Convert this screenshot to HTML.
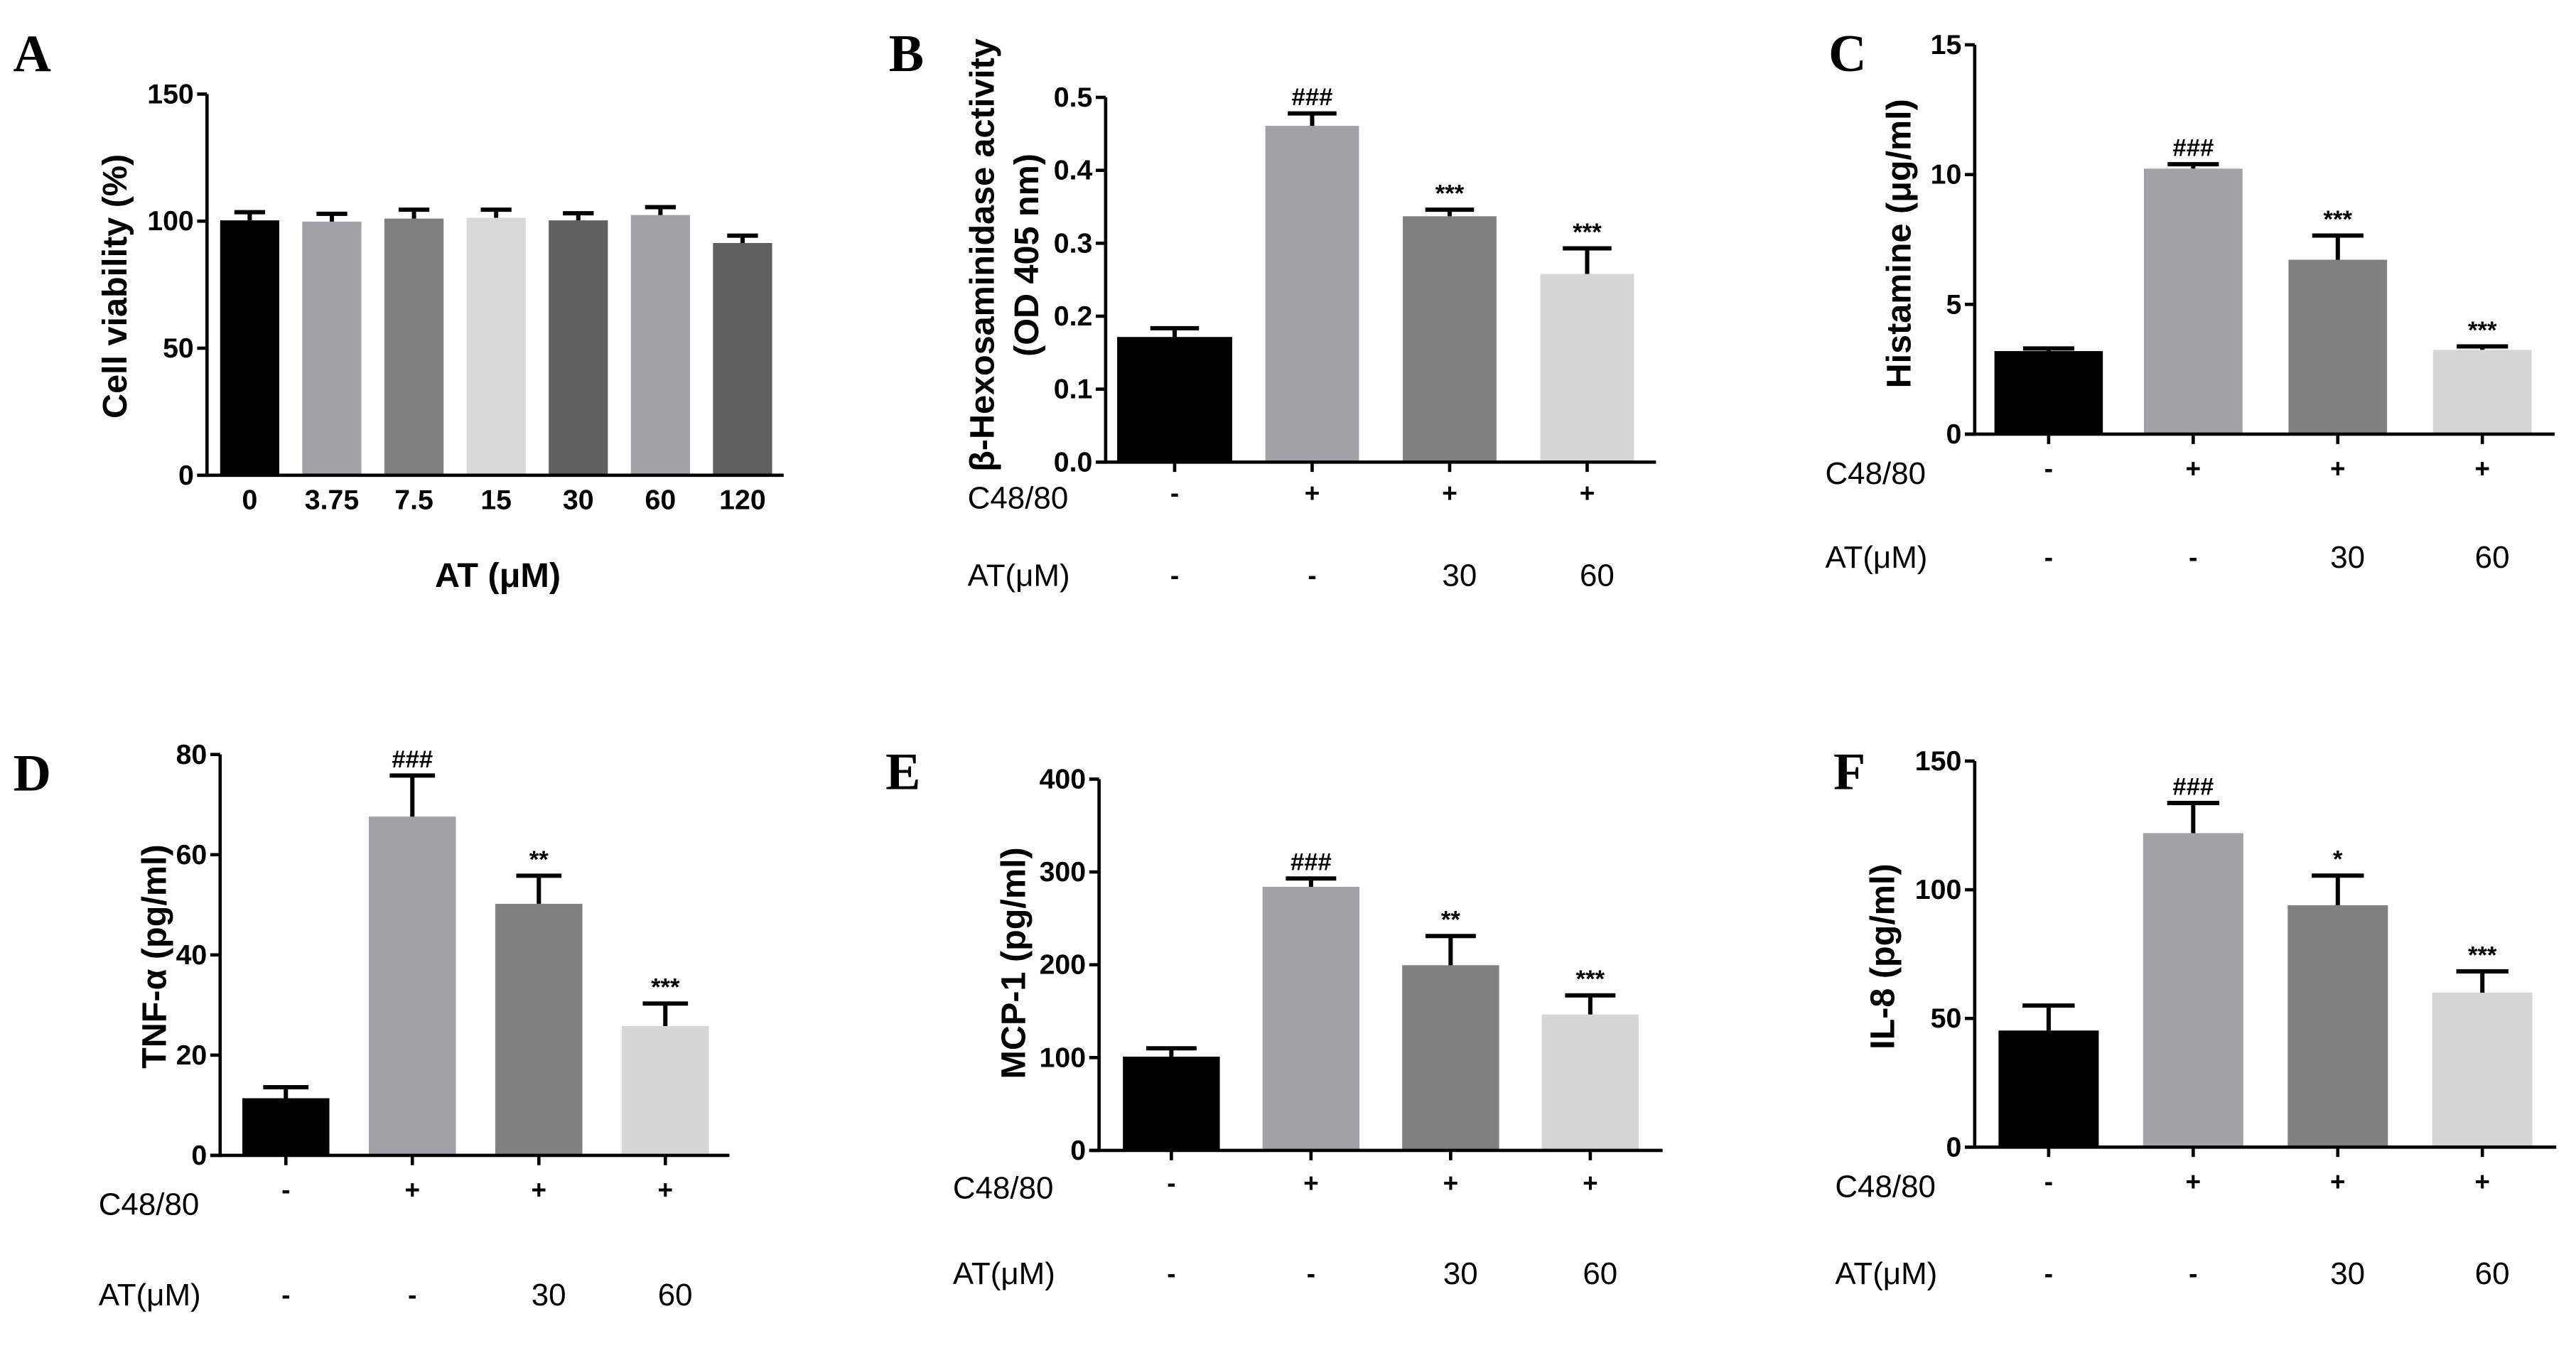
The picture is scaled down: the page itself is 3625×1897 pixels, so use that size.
<!DOCTYPE html>
<html><head><meta charset="utf-8"><style>
html,body{margin:0;padding:0;background:#fff;}
svg{display:block;}
text{font-family:"Liberation Sans",Arial,sans-serif;}
.lbl{font-family:"Liberation Serif","Times New Roman",serif;font-weight:bold;font-size:32px;}
.tick{font-weight:bold;font-size:17px;}
.ttl{font-weight:bold;font-size:21px;}
.row{font-size:19px;}
.sign{font-weight:bold;font-size:16px;}
.ann{font-weight:bold;font-size:15px;}
</style></head><body>
<svg id="fig" width="3625" height="1897" viewBox="0 0 1568 820" xmlns="http://www.w3.org/2000/svg">
<rect x="0" y="0" width="1568" height="820" fill="#fff"/>
</svg>
<script>
// ---- Panel A data ----
const aCategories = ["0","3.75","7.5","15","30","60","120"];
const aValues = [100.3, 99.8, 101, 101.3, 100.3, 102.4, 91.4];
const aErrors = [3.2, 3.1, 3.5, 3.2, 2.8, 3.1, 2.9];
const aTicks = [0, 50, 100, 150];
const aTickLabels = ["0","50","100","150"];
// ---- Panel B data ----
const bValues = [0.1715, 0.461, 0.337, 0.258];
const bErrors = [0.012, 0.017, 0.009, 0.035];
const bAnnot = ["", "###", "***", "***"];
const bTicks = [0, 0.1, 0.2, 0.3, 0.4, 0.5];
const bTickLabels = ["0.0","0.1","0.2","0.3","0.4","0.5"];
// ---- Panel C data ----
const cValues = [3.2, 10.23, 6.72, 3.25];
const cErrors = [0.1, 0.17, 0.93, 0.13];
const cAnnot = ["", "###", "***", "***"];
const cTicks = [0, 5, 10, 15];
const cTickLabels = ["0","5","10","15"];
// ---- Panel D data ----
const dValues = [11.4, 67.6, 50.2, 25.8];
const dErrors = [2.2, 8.2, 5.6, 4.5];
const dAnnot = ["", "###", "**", "***"];
const dTicks = [0, 20, 40, 60, 80];
const dTickLabels = ["0","20","40","60","80"];
// ---- Panel E data ----
const eValues = [101, 284, 199.5, 146.5];
const eErrors = [9, 9, 31.5, 20.5];
const eAnnot = ["", "###", "**", "***"];
const eTicks = [0, 100, 200, 300, 400];
const eTickLabels = ["0","100","200","300","400"];
// ---- Panel F data ----
const fValues = [45.3, 122, 94, 60];
const fErrors = [9.7, 11.7, 11.5, 8.3];
const fAnnot = ["", "###", "*", "***"];
const fTicks = [0, 50, 100, 150];
const fTickLabels = ["0","50","100","150"];
// shared treatment rows
const c4880Row = ["-", "+", "+", "+"];
const atRow = ["-", "-", "30", "60"];

const NS = "http://www.w3.org/2000/svg";
const svg = document.getElementById("fig");
function mk(tag, attrs, parent) {
  const e = document.createElementNS(NS, tag);
  for (const k in attrs) e.setAttribute(k, attrs[k]);
  (parent || svg).appendChild(e);
  return e;
}
function txt(s, attrs, parent) { const t = mk("text", attrs, parent); t.textContent = s; return t; }

function panel(L, values, errors, ticks, tickLabels, annot, colors, cats) {
  const g = mk("g", {});
  
  
  const y = v => L.y0 - (v - ticks[0]) / (ticks[ticks.length - 1] - ticks[0]) * (L.y0 - L.yTop);
  const xc = i => L.x0c + i * L.step;
  const pl = txt(L.id.toUpperCase(), {x: L.lx, y: L.ly, class: "lbl"}, g);
  
  
  values.forEach((v, i) => {
    const w = (i === 0 && L.w0) ? L.w0 : L.w;
    const r = mk("rect", {x: xc(i) - w / 2, y: y(v), width: w, height: L.y0 - y(v), fill: colors[i]}, g);
    
    
    const top = y(v + errors[i]);
    const cw = L.w * 0.26;
    const eb = mk("path", {d: `M${xc(i)},${y(v)} V${top} M${xc(i) - cw},${top} H${xc(i) + cw}`, stroke: "#000", "stroke-width": 2.6, fill: "none"}, g);
    
    
    if (annot && annot[i]) {
      const a = txt(annot[i], {x: xc(i), y: top - 5, "text-anchor": "middle", class: "ann"}, g);
      
      
    }
  });
  const ya = mk("path", {d: `M${L.ax},${L.yTop} V${L.y0 + 1}`, stroke: "#000", "stroke-width": 2, fill: "none"}, g);
  
  
  const xa = mk("path", {d: `M${L.ax - 6},${L.y0} H${L.axEnd}`, stroke: "#000", "stroke-width": 2, fill: "none"}, g);
  
  
  ticks.forEach((t, i) => {
    mk("path", {d: `M${L.ax - 6},${y(t)} H${L.ax}`, stroke: "#000", "stroke-width": 2}, g);
    const tl = txt(tickLabels[i], {x: L.ax - 8, y: y(t), "text-anchor": "end", "dominant-baseline": "central", class: "tick"}, g);
    
    
  });
  L.title.forEach((line, k) => {
    const tt = txt(line, {x: 0, y: 0, "text-anchor": "middle", "dominant-baseline": "central", class: "ttl", transform: `translate(${L.tx[k]},${L.ty}) rotate(-90)`}, g);
    
    
  });
  if (cats) {
    cats.forEach((c, i) => {
      const ct = txt(c, {x: xc(i), y: L.catY, "text-anchor": "middle", "dominant-baseline": "central", class: "tick"}, g);
      
      
    });
    const xt = txt(L.xTitle, {x: L.xTitleX, y: L.xTitleY, "text-anchor": "middle", "dominant-baseline": "central", class: "ttl"}, g);
    
    
  } else {
    values.forEach((v, i) => {
      mk("path", {d: `M${xc(i)},${L.y0} V${L.y0 + 6}`, stroke: "#000", "stroke-width": 2}, g);
      const s1 = txt(c4880Row[i], {x: xc(i), y: L.signY, "text-anchor": "middle", "dominant-baseline": "central", class: "sign"}, g);
      
      
      const isNum = /\d/.test(atRow[i]);
      const s2 = txt(atRow[i], {x: xc(i) + (isNum ? 6 : 0), y: L.row2, "text-anchor": "middle", "dominant-baseline": "central", class: isNum ? "row" : "sign"}, g);
      
      
    });
    const r1 = txt("C48/80", {x: L.labX, y: L.row1, "dominant-baseline": "central", class: "row"}, g);
    
    
    const r2 = txt("AT(μM)", {x: L.labX, y: L.row2, "dominant-baseline": "central", class: "row"}, g);
    
    
  }
}
const C4 = ["#000000", "#a2a2a6", "#808080", "#d6d6d6"];
const C7 = ["#000000", "#a2a2a6", "#808080", "#d8d8d8", "#606060", "#a2a2a6", "#606060"];

panel({id:"a", lx:8, ly:43, ax:126, axEnd:477, yTop:57, y0:289, x0c:152, step:50, w:36,
  title:["Cell viability (%)"], tx:[70], ty:174, catY:304, xTitle:"AT (μM)", xTitleX:303, xTitleY:350},
  aValues, aErrors, aTicks, aTickLabels, null, C7, aCategories);
panel({id:"b", lx:541, ly:43, ax:673, axEnd:1008, yTop:59, y0:281, x0c:715, step:83.7, w:57, w0:70,
  title:["β-Hexosaminidase activity","(OD 405 nm)"], tx:[598,625], ty:155,
  row1:303, row2:350, signY:300, labX:589},
  bValues, bErrors, bTicks, bTickLabels, bAnnot, C4);
panel({id:"c", lx:1113, ly:43, ax:1202, axEnd:1555, yTop:27, y0:264, x0c:1247, step:88, w:60, w0:66,
  title:["Histamine (μg/ml)"], tx:[1156], ty:148,
  row1:288, row2:339, signY:285, labX:1111},
  cValues, cErrors, cTicks, cTickLabels, cAnnot, C4);
panel({id:"d", lx:8, ly:481, ax:134, axEnd:444, yTop:459, y0:703, x0c:174, step:77, w:53,
  title:["TNF-α (pg/ml)"], tx:[94], ty:582,
  row1:733, row2:788, signY:724, labX:60},
  dValues, dErrors, dTicks, dTickLabels, dAnnot, C4);
panel({id:"e", lx:539, ly:480, ax:669, axEnd:1012, yTop:474, y0:700, x0c:713, step:85, w:59,
  title:["MCP-1 (pg/ml)"], tx:[617], ty:586,
  row1:723, row2:775, signY:720, labX:580},
  eValues, eErrors, eTicks, eTickLabels, eAnnot, C4);
panel({id:"f", lx:1116, ly:480, ax:1202, axEnd:1556, yTop:463, y0:698, x0c:1247, step:88, w:61,
  title:["IL-8 (pg/ml)"], tx:[1146], ty:582,
  row1:722, row2:775, signY:719, labX:1117},
  fValues, fErrors, fTicks, fTickLabels, fAnnot, C4);
</script>
</body></html>
